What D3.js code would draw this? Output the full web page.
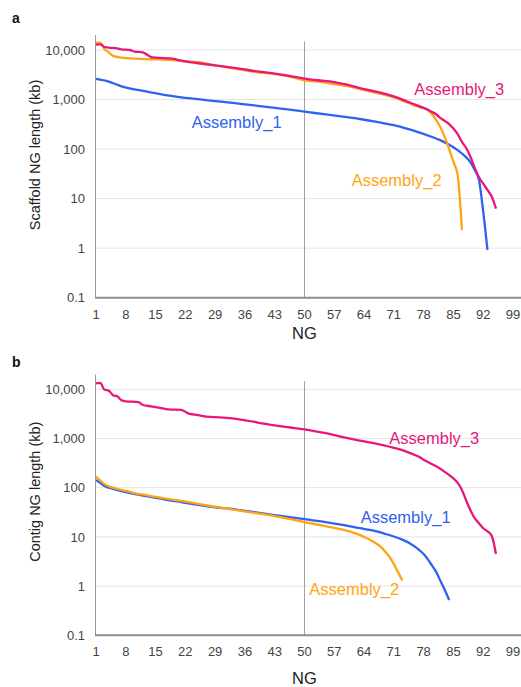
<!DOCTYPE html>
<html>
<head>
<meta charset="utf-8">
<script src="https://cdn.jsdelivr.net/npm/d3@7"></script>
<style>
  body { margin: 0; background: #fff; }
  svg { display: block; font-family: "Liberation Sans", Arial, sans-serif; }
</style>
</head>
<body>
<svg id="chart"></svg>
<script>
const width = 521;
const height = 687;

// tick labels
const ngTicks = [1, 8, 15, 22, 29, 36, 43, 50, 57, 64, 71, 78, 85, 92, 99];
const kbTicks = [0.1, 1, 10, 100, 1000, 10000];
const seriesNames = ["Assembly_1", "Assembly_2", "Assembly_3"];

// ---- panel a: scaffold NG length (kb), [NG, kb]
const scaffoldA1 = [[1,2600],[4,2300],[7,1850],[10,1600],[13,1450],[17,1240],[21,1110],[25,1020],[29,930],
  [33,860],[39,745],[45,650],[50,570],[55,500],[59,450],[63,405],[67,355],[70,315],[73,275],[76,230],
  [80,175],[82,150],[84,122],[86,95],[88,68],[89,54],[90,38],[91,24],[92,5.5],[93,0.92]];
const scaffoldA2 = [[1,14000],[2,14000],[3,10500],[4,9000],[5,7600],[7,7000],[10,6700],[14,6500],[18,6300],
  [21,6000],[23,5800],[25,5750],[26,5500],[29,4900],[33,4300],[36,3900],[39,3550],[43,3250],[47,2850],
  [50,2450],[54,2250],[57,2050],[61,1800],[64,1550],[68,1300],[71,1100],[74,880],[77,700],[79,620],
  [80,500],[81,380],[82,270],[83,170],[84,100],[85,55],[86,30],[87,2.3]];
const scaffoldA3 = [[1,12800],[2,13000],[3,11500],[4,11200],[6,10800],[7,10300],[9,10000],[10,9300],[12,9000],
  [13,8000],[14,7200],[15,7000],[19,6700],[20,6400],[22,5900],[25,5400],[28,5000],[31,4650],[34,4300],
  [37,3900],[40,3600],[43,3350],[46,3050],[50,2650],[53,2450],[57,2250],[60,2000],[63,1700],[66,1500],
  [69,1300],[72,1080],[75,850],[78,680],[80,560],[81,500],[82,420],[84,320],[85,260],[86,200],[87,140],
  [88,105],[89,70],[90,42],[91,27],[92,20],[93,15],[94,11],[95,6.3]];

// ---- panel b: contig NG length (kb)
const contigA1 = [[1,144],[2,125],[3,108],[5,95],[7,85],[10,75],[13,67],[17,58],[21,51],[25,45],[29,40],
  [34,36],[39,31],[44,27],[50,23],[55,20],[59,17.5],[63,15],[66,13.5],[69,11.5],[71,10.2],[73,8.8],
  [75,7.2],[77,5.4],[78,4.5],[79,3.5],[80,2.6],[81,1.9],[82,1.25],[83,0.82],[84,0.52]];
const contigA2 = [[1,168],[2,140],[3,118],[5,100],[7,90],[10,78],[13,70],[17,61],[21,54],[25,47],[29,41],
  [34,35],[39,30],[44,25.5],[50,20],[55,16.5],[59,14],[62,11.8],[64,10],[66,8.2],[68,6.2],[69,5],
  [70,3.9],[71,2.8],[72,1.9],[73,1.3]];
const contigA3 = [[1,13200],[2,13500],[3,9800],[4,9400],[5,7600],[6,7200],[7,6000],[8,5700],[11,5500],
  [12,4800],[14,4500],[16,4200],[18,3900],[21,3800],[22,3500],[23,3150],[25,3000],[27,2780],[30,2700],
  [33,2570],[36,2350],[38,2200],[40,2020],[43,1850],[46,1700],[50,1540],[55,1280],[58,1120],[61,980],
  [64,870],[67,780],[70,680],[73,580],[75,500],[77,420],[78,370],[80,300],[82,240],[84,180],[85,155],
  [86,125],[87,90],[88,55],[89,35],[90,24],[91,19],[92,15],[93,13],[94,10.5],[95,4.5]];

const colors = ["#2f62f0", "#ffa412", "#e8177a"];

const svg = d3.select("#chart")
  .attr("width", width)
  .attr("height", height)
  .attr("viewBox", [0, 0, width, height]);

function drawPanel(cfg) {
  const g = svg.append("g");

  const x = d3.scaleLinear([1, 101], [96, 521.5]);
  const y = d3.scaleLog([0.1, 20000], [cfg.bottom, cfg.bottom - 5.301 * cfg.decade]);

  // grid lines
  g.append("g")
    .selectAll("line")
    .data(kbTicks.slice(1))
    .join("line")
    .attr("x1", 95).attr("x2", width)
    .attr("y1", d => y(d)).attr("y2", d => y(d))
    .attr("stroke", "#e4e4e4");

  // y axis line
  g.append("line")
    .attr("x1", 95.5).attr("x2", 95.5)
    .attr("y1", y.range()[1]).attr("y2", cfg.bottom)
    .attr("stroke", "#9a9a9a");

  // NG50 reference line
  g.append("line")
    .attr("x1", Math.round(x(50)) + 0.5).attr("x2", Math.round(x(50)) + 0.5)
    .attr("y1", y.range()[1] + 6.5).attr("y2", cfg.bottom)
    .attr("stroke", "#a0a0a0");

  // x axis line
  g.append("line")
    .attr("x1", 95).attr("x2", width)
    .attr("y1", cfg.bottom).attr("y2", cfg.bottom)
    .attr("stroke", "#8e8e8e")
    .attr("stroke-width", 2);

  // tick labels
  g.append("g")
    .attr("font-size", 13)
    .attr("fill", "#444")
    .attr("text-anchor", "end")
    .selectAll("text")
    .data(kbTicks)
    .join("text")
    .attr("x", 85)
    .attr("y", d => y(d))
    .attr("dy", "0.36em")
    .text(d3.format(","));

  g.append("g")
    .attr("font-size", 13)
    .attr("fill", "#444")
    .attr("text-anchor", "middle")
    .selectAll("text")
    .data(ngTicks)
    .join("text")
    .attr("x", d => x(d))
    .attr("y", cfg.bottom + 21)
    .text(d => d);

  // axis titles
  g.append("text")
    .attr("transform", `translate(40,${cfg.titleY}) rotate(-90)`)
    .attr("text-anchor", "middle")
    .attr("font-size", 14.5)
    .attr("fill", "#222")
    .text(cfg.title);

  g.append("text")
    .attr("x", x(50))
    .attr("y", cfg.ngY)
    .attr("text-anchor", "middle")
    .attr("font-size", 16.5)
    .attr("fill", "#222")
    .text("NG");

  g.append("text")
    .attr("x", 12)
    .attr("y", cfg.letterY)
    .attr("font-size", 14)
    .attr("font-weight", "bold")
    .attr("fill", "#111")
    .text(cfg.letter);

  // lines
  const line = d3.line()
    .curve(d3.curveMonotoneX)
    .x(d => x(d[0]))
    .y(d => y(d[1]));

  g.append("g")
    .attr("fill", "none")
    .attr("stroke-width", 2.3)
    .attr("stroke-linejoin", "round")
    .selectAll("path")
    .data(cfg.series)
    .join("path")
    .attr("stroke", (d, i) => colors[i])
    .attr("d", line);

  // series labels
  g.append("g")
    .attr("font-size", 16.5)
    .selectAll("text")
    .data(cfg.labels)
    .join("text")
    .attr("x", d => d[0])
    .attr("y", d => d[1])
    .attr("fill", (d, i) => colors[i])
    .text((d, i) => seriesNames[i]);
}

drawPanel({
  letter: "a", letterY: 23,
  bottom: 297.7, decade: 49.54,
  title: "Scaffold NG length (kb)", titleY: 155,
  ngY: 339,
  series: [scaffoldA1, scaffoldA2, scaffoldA3],
  labels: [[191.7, 127.5], [351.7, 185.5], [414.3, 94.5]]
});

drawPanel({
  letter: "b", letterY: 366.5,
  bottom: 635.3, decade: 49.2,
  title: "Contig NG length (kb)", titleY: 491.7,
  ngY: 683.5,
  series: [contigA1, contigA2, contigA3],
  labels: [[360.7, 522.8], [309.3, 595.2], [389.3, 443.8]]
});
</script>
</body>
</html>
